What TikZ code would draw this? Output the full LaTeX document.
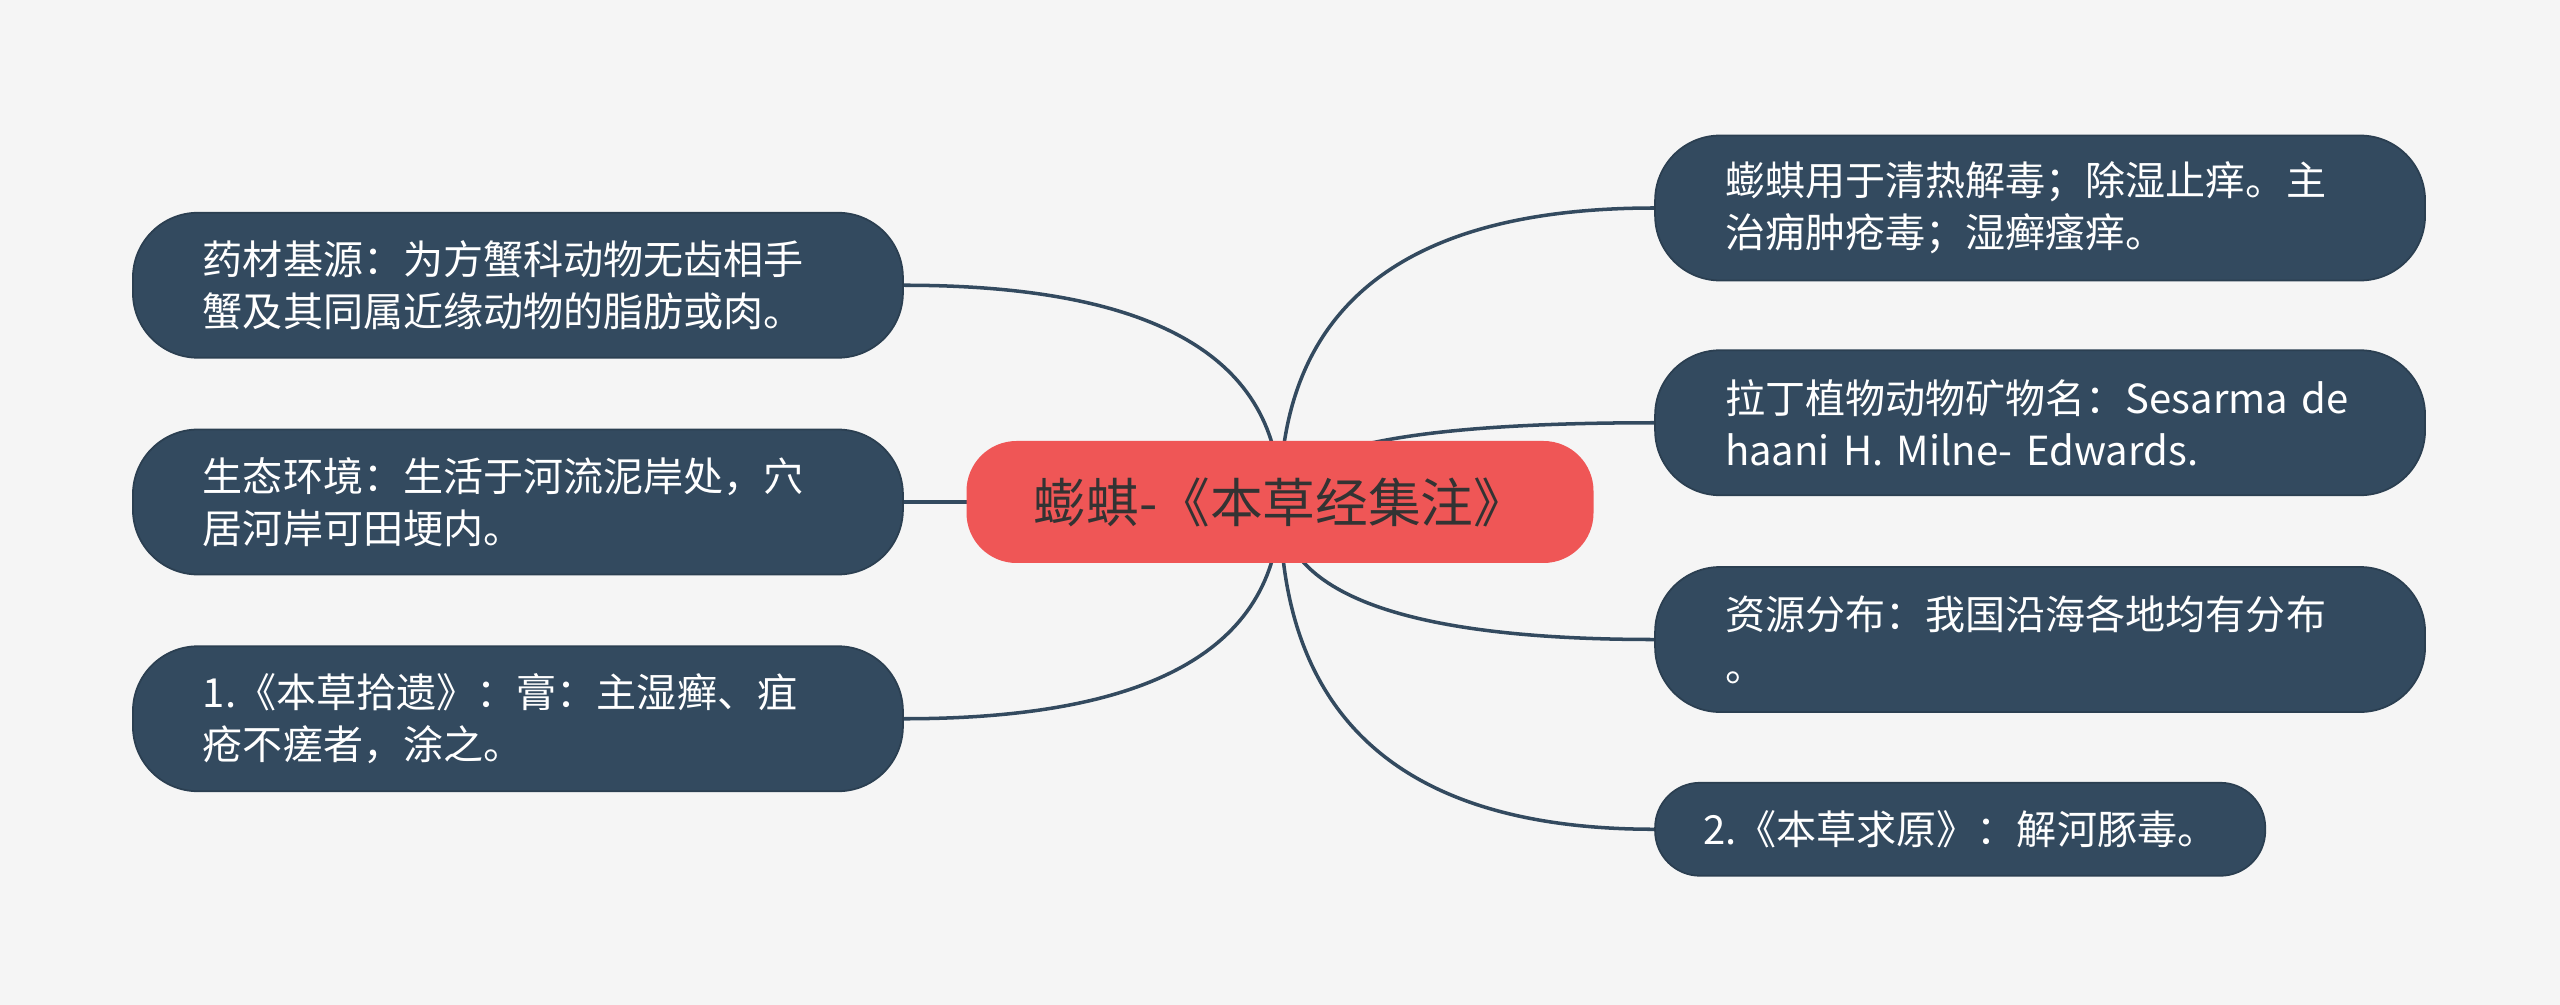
\documentclass[tikz,border=0pt]{standalone}
\usepackage{fontspec}
\setmainfont{Noto Sans CJK SC}
\usetikzlibrary{positioning,backgrounds,calc}
\definecolor{bgcol}{HTML}{F5F5F5}
\definecolor{leafcol}{HTML}{334A5F}
\definecolor{rootcol}{HTML}{EF5656}
\definecolor{roottext}{HTML}{333333}

\begin{document}
\begin{tikzpicture}[node distance=0.7cm]
  % Define styles
  \tikzstyle{topic} = [rectangle, rounded corners=0.5cm, fill=rootcol, text=roottext, minimum width=6.27cm, minimum height=1.22cm, font=\fontsize{15}{18}\selectfont]
  \tikzstyle{leaf} = [rectangle, rounded corners=0.65cm, fill=leafcol, draw=leafcol!85!black, line width=0.5pt, text=white, text width=6.3cm, inner xsep=0.7cm, inner ysep=0pt, align=left, minimum height=1.45cm, font=\fontsize{11.4}{14.8}\selectfont]
  \tikzstyle{shortleaf} = [rectangle, rounded corners=0.45cm, fill=leafcol, draw=leafcol!85!black, line width=0.5pt, text=white, inner xsep=0.48cm, inner ysep=0pt, minimum height=0.93cm, font=\fontsize{11.4}{14.8}\selectfont]
  \tikzstyle{link} = [draw, line width=1pt, leafcol]

  \useasboundingbox (0,0) rectangle (25.6,-10.05);

  % Place nodes
  \node [topic] (root) at (12.80,-5.02) {蟛蜞-《本草经集注》};
  \node [leaf, left=0.62cm of root] (l2) {生态环境：生活于河流泥岸处，穴\\居河岸可田埂内。};
  \node [leaf, above=0.7cm of l2] (l1) {药材基源：为方蟹科动物无齿相手\\蟹及其同属近缘动物的脂肪或肉。};
  \node [leaf, below=0.7cm of l2] (l3) {1.《本草拾遗》：膏：主湿癣、疽\\疮不瘥者，涂之。};
  \node [leaf, right=0.6cm of root, yshift=2.94cm] (r1) {蟛蜞用于清热解毒；除湿止痒。主\\治痈肿疮毒；湿癣瘙痒。};
  \node [leaf, below=0.68cm of r1] (r2) {拉丁植物动物矿物名：Sesarma de\\haani H. Milne- Edwards.};
  \node [leaf, below=0.7cm of r2] (r3) {资源分布：我国沿海各地均有分布\\。};
  \node [shortleaf, below=0.69cm of r3.south west, anchor=north west] (r4) {2.《本草求原》：解河豚毒。};

  % Draw edges behind the nodes (quadratic bend through root.center |- target)
  \begin{scope}[on background layer]
    \fill [bgcol] (0,0) rectangle (25.6,-10.05);
    \path [link] (root.center) .. controls ($(root.center)!0.667!(root.center |- l1.east)$) and ($(l1.east)!0.667!(root.center |- l1.east)$) .. (l1.east);
    \path [link] (root.center) .. controls ($(root.center)!0.667!(root.center |- l2.east)$) and ($(l2.east)!0.667!(root.center |- l2.east)$) .. (l2.east);
    \path [link] (root.center) .. controls ($(root.center)!0.667!(root.center |- l3.east)$) and ($(l3.east)!0.667!(root.center |- l3.east)$) .. (l3.east);
    \path [link] (root.center) .. controls ($(root.center)!0.667!(root.center |- r1.west)$) and ($(r1.west)!0.667!(root.center |- r1.west)$) .. (r1.west);
    \path [link] (root.center) .. controls ($(root.center)!0.667!(root.center |- r2.west)$) and ($(r2.west)!0.667!(root.center |- r2.west)$) .. (r2.west);
    \path [link] (root.center) .. controls ($(root.center)!0.667!(root.center |- r3.west)$) and ($(r3.west)!0.667!(root.center |- r3.west)$) .. (r3.west);
    \path [link] (root.center) .. controls ($(root.center)!0.667!(root.center |- r4.west)$) and ($(r4.west)!0.667!(root.center |- r4.west)$) .. (r4.west);
  \end{scope}
\end{tikzpicture}
\end{document}
